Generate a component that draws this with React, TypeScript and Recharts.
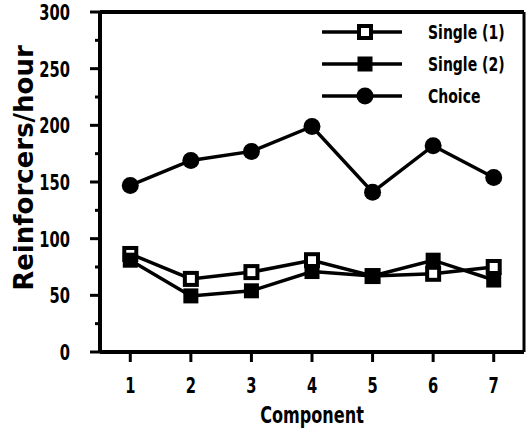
import { LineChart, Line, XAxis, YAxis, ReferenceLine } from 'recharts'

// Component number on the x axis
const components = [1, 2, 3, 4, 5, 6, 7]

// Reinforcers per hour
const single1 = [86.5, 64.5, 70.5, 81, 67, 69, 75]
const single2 = [81, 49.5, 54, 71, 67, 81, 63.5]
const choice = [147, 169, 177, 199, 141, 182, 154]

const yTicks = [0, 25, 50, 75, 100, 125, 150, 175, 200, 225, 250, 275, 300]

const data = components.map((c, i) => ({
  component: c,
  single1: single1[i],
  single2: single2[i],
  choice: choice[i],
}))

const FONT = '"DejaVu Sans", sans-serif'
const INK = '#000'
const SQUEEZE = 0.7 // the original uses a narrow bold face

const OpenSquare = (props: any) => {
  const { cx, cy } = props
  if (cx == null || cy == null) return <g />
  return <rect x={cx - 6} y={cy - 6} width={12} height={12} fill="#fff" stroke={INK} strokeWidth={4} />
}

const FilledSquare = (props: any) => {
  const { cx, cy } = props
  if (cx == null || cy == null) return <g />
  return <rect x={cx - 7.5} y={cy - 7.5} width={15} height={15} fill={INK} />
}

const Dot = (props: any) => {
  const { cx, cy } = props
  if (cx == null || cy == null) return <g />
  return <circle cx={cx} cy={cy} r={8.5} fill={INK} />
}

const series = [
  { key: 'single1', name: 'Single (1)', Marker: OpenSquare },
  { key: 'single2', name: 'Single (2)', Marker: FilledSquare },
  { key: 'choice', name: 'Choice', Marker: Dot },
]

const NarrowText = ({ x, y, size, anchor, children }: any) => (
  <text
    transform={`translate(${x},${y}) scale(${SQUEEZE},1)`}
    textAnchor={anchor}
    fontFamily={FONT}
    fontWeight="bold"
    fontSize={size}
    fill={INK}
  >
    {children}
  </text>
)

// y ticks: labelled long ticks every 50, short unlabelled ones in between
const YTick = (props: any) => {
  const { x, y, payload } = props
  const major = payload.value % 50 === 0
  const axisX = x + 30
  return (
    <g>
      <line x1={axisX - (major ? 10 : 5)} x2={axisX} y1={y} y2={y} stroke={INK} strokeWidth={3} />
      {major && (
        <NarrowText x={x} y={y + 8} size={21} anchor="end">
          {payload.value}
        </NarrowText>
      )}
    </g>
  )
}

const XTick = (props: any) => {
  const { x, y, payload } = props
  return (
    <NarrowText x={x} y={y + 15} size={21} anchor="middle">
      {payload.value}
    </NarrowText>
  )
}

const XLabel = (props: any) => {
  const vb = props.viewBox || {}
  return (
    <NarrowText x={vb.x + vb.width / 2} y={vb.y + vb.height - 9} size={23} anchor="middle">
      Component
    </NarrowText>
  )
}

const LegendBox = () => (
  <div style={{ position: 'absolute', left: 320, top: 16 }}>
    {series.map(s => (
      <div key={s.key} style={{ display: 'flex', alignItems: 'center', height: 32 }}>
        <svg width={84} height={24}>
          <line x1={2} x2={82} y1={12} y2={12} stroke={INK} strokeWidth={3.5} />
          <s.Marker cx={45} cy={12} />
        </svg>
        <span
          style={{
            marginLeft: 24,
            display: 'inline-block',
            transform: `scaleX(${SQUEEZE})`,
            transformOrigin: 'left center',
            whiteSpace: 'nowrap',
            fontFamily: FONT,
            fontWeight: 'bold',
            fontSize: 20,
            color: INK,
          }}
        >
          {s.name}
        </span>
      </div>
    ))}
  </div>
)

export default function App() {
  return (
    <div style={{ position: 'absolute', left: 0, top: 0, width: 532, height: 432, background: '#fff' }}>
      <LineChart width={532} height={432} data={data} margin={{ top: 12, right: 8, left: 0, bottom: 0 }}>
        <XAxis
          dataKey="component"
          type="number"
          domain={[0.5, 7.5]}
          ticks={components}
          height={80}
          axisLine={{ stroke: INK, strokeWidth: 4 }}
          tickLine={{ stroke: INK, strokeWidth: 3 }}
          tickSize={10}
          tickMargin={16}
          tick={<XTick />}
          label={<XLabel />}
        />
        <YAxis
          type="number"
          domain={[0, 300]}
          ticks={yTicks}
          width={100}
          axisLine={{ stroke: INK, strokeWidth: 4 }}
          tickLine={false}
          tickSize={0}
          tickMargin={30}
          tick={<YTick />}
          label={{ value: 'Reinforcers/hour', angle: -90, position: 'insideLeft', offset: 24, dy: -14, textAnchor: 'middle', fill: INK, fontFamily: FONT, fontWeight: 'bold', fontSize: 26 }}
        />
        <ReferenceLine y={300} stroke={INK} strokeWidth={4} />
        <ReferenceLine x={7.5} stroke={INK} strokeWidth={3} />
        {series.map(s => (
          <Line
            key={s.key}
            dataKey={s.key}
            name={s.name}
            stroke={INK}
            strokeWidth={3.5}
            dot={<s.Marker />}
            activeDot={false}
            isAnimationActive={false}
          />
        ))}
      </LineChart>
      <LegendBox />
    </div>
  )
}
